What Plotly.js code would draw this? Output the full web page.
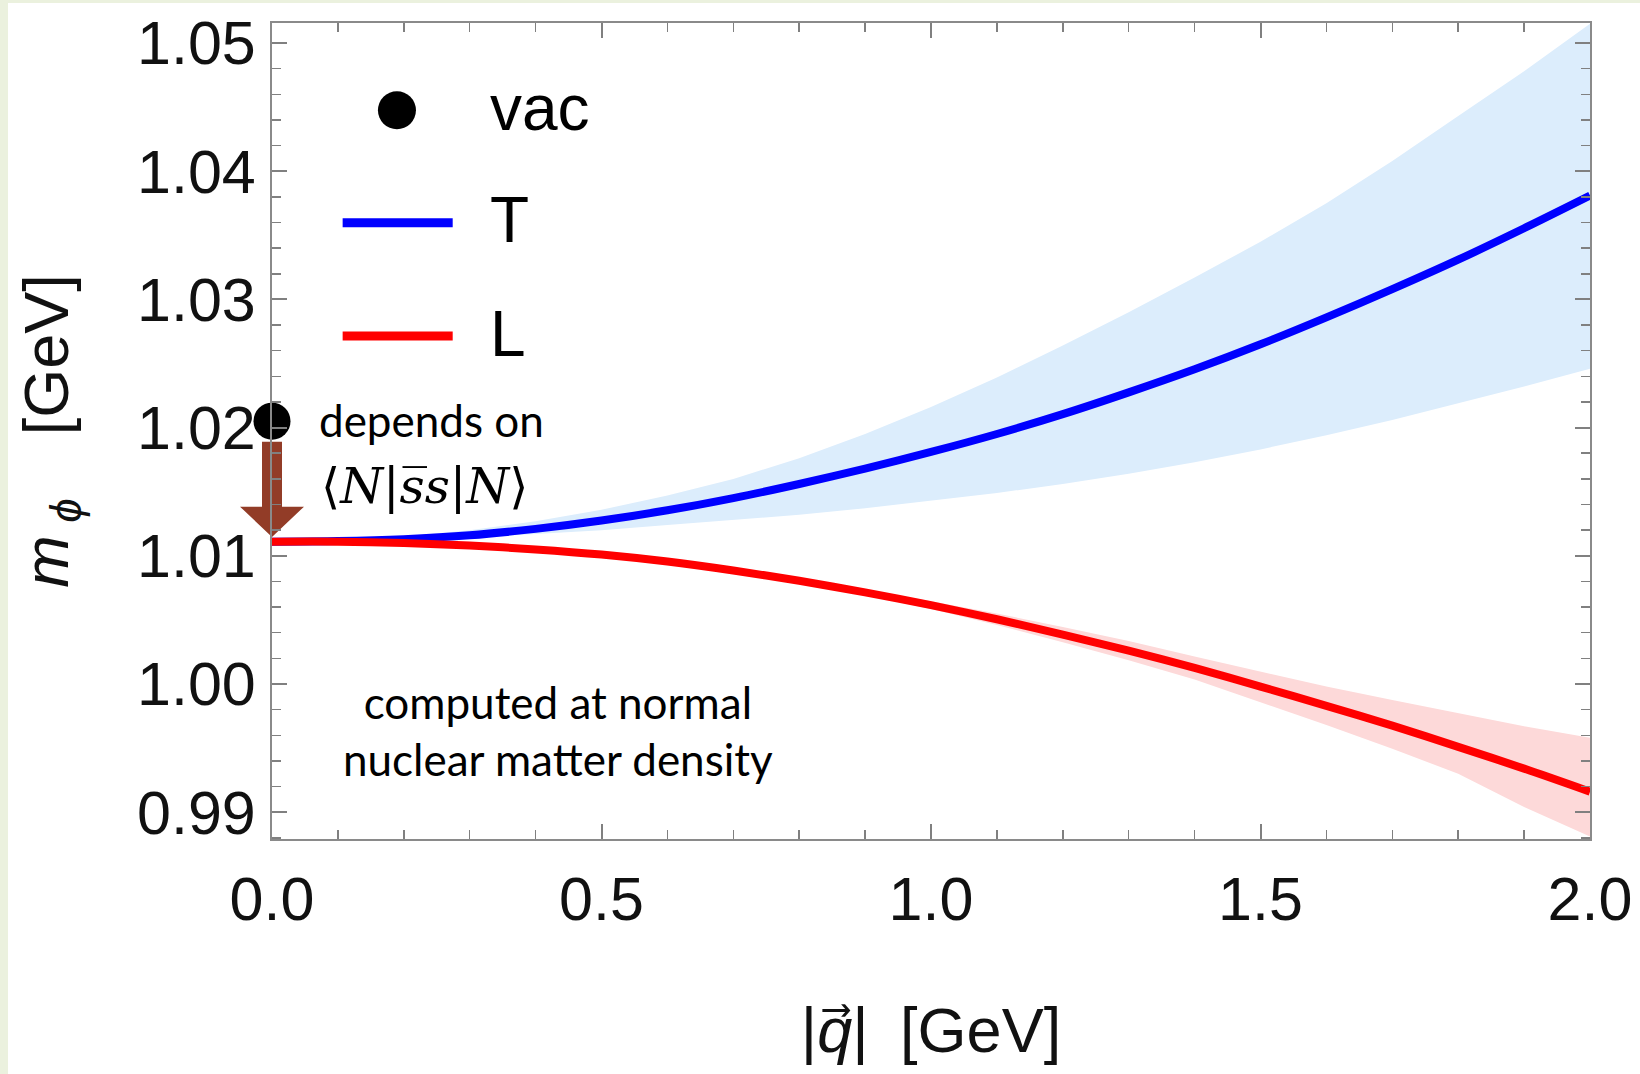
<!DOCTYPE html>
<html>
<head>
<meta charset="utf-8">
<script src="https://cdn.plot.ly/plotly-3.0.1.min.js"></script>
<style>
  html, body { margin: 0; padding: 0; background: #ebf1de; width: 1640px; height: 1074px; overflow: hidden; }
  #plot { position: absolute; left: 8px; top: 3px; width: 1632px; height: 1071px; background: #ffffff; }
</style>
</head>
<body>
<div id="plot"></div>
<script>
// momentum |q| [GeV]
const q = [0.0, 0.1, 0.2, 0.3, 0.4, 0.5, 0.6, 0.7, 0.8, 0.9, 1.0,
           1.1, 1.2, 1.3, 1.4, 1.5, 1.6, 1.7, 1.8, 1.9, 2.0];
// transverse mode (T): central value and band
const massT   = [1.01110, 1.01115, 1.01130, 1.01160, 1.01210, 1.01275, 1.01355, 1.01450, 1.01560, 1.01680, 1.01810,
                 1.01950, 1.02105, 1.02275, 1.02455, 1.02650, 1.02860, 1.03080, 1.03310, 1.03555, 1.03810];
const massTHi = [1.0111, 1.0112, 1.0115, 1.0120, 1.0127, 1.0136, 1.0147, 1.0160, 1.0176, 1.0195, 1.0216,
                 1.0239, 1.0264, 1.0290, 1.0317, 1.0345, 1.0375, 1.0408, 1.0443, 1.0478, 1.0515];
const massTLo = [1.0111, 1.0111, 1.0112, 1.0114, 1.0117, 1.0120, 1.0124, 1.0128, 1.0132, 1.0137, 1.0143,
                 1.0149, 1.0156, 1.0164, 1.0173, 1.0183, 1.0194, 1.0206, 1.0219, 1.0232, 1.0246];
// longitudinal mode (L): central value and band
const massL   = [1.01110, 1.01110, 1.01100, 1.01080, 1.01050, 1.01010, 1.00955, 1.00885, 1.00805, 1.00715, 1.00615,
                 1.00505, 1.00385, 1.00260, 1.00125, 0.99980, 0.99830, 0.99675, 0.99510, 0.99340, 0.99160];
const massLHi = [1.01110, 1.01112, 1.01103, 1.01084, 1.01055, 1.01017, 1.00963, 1.00895, 1.00815, 1.00735, 1.00645,
                 1.00550, 1.00445, 1.00335, 1.00215, 1.00100, 0.99980, 0.99875, 0.99770, 0.99670, 0.99580];
const massLLo = [1.01110, 1.01108, 1.01097, 1.01076, 1.01045, 1.01003, 1.00947, 1.00875, 1.00795, 1.00695, 1.00585,
                 1.00460, 1.00325, 1.00185, 1.00035, 0.99860, 0.99680, 0.99495, 0.99300, 0.99040, 0.98810];
// vacuum value
const vacQ = [0.0];
const vacMass = [1.0205];
// legend labels
const legendLabels = ["vac", "T", "L"];

const sansFamily = "'Liberation Sans', Arial, Helvetica, sans-serif";
const tickFont = { family: sansFamily, size: 61, color: "#111111" };
const titleFont = { family: sansFamily, size: 63, color: "#111111" };
const noteFont = { family: "Lato, Calibri, sans-serif", size: 44, color: "#000000" };

const traces = [
  { x: q, y: massTLo, type: "scatter", mode: "lines", line: { width: 0 },
    hoverinfo: "skip", showlegend: false },
  { x: q, y: massTHi, type: "scatter", mode: "lines", line: { width: 0 },
    fill: "tonexty", fillcolor: "#dcedfc", hoverinfo: "skip", showlegend: false },
  { x: q, y: massLLo, type: "scatter", mode: "lines", line: { width: 0 },
    hoverinfo: "skip", showlegend: false },
  { x: q, y: massLHi, type: "scatter", mode: "lines", line: { width: 0 },
    fill: "tonexty", fillcolor: "#fdd9d9", hoverinfo: "skip", showlegend: false },
  { x: q, y: massT, type: "scatter", mode: "lines", name: legendLabels[1],
    line: { color: "#0000ff", width: 8, shape: "spline", smoothing: 0.8 }, cliponaxis: false, showlegend: false },
  { x: q, y: massL, type: "scatter", mode: "lines", name: legendLabels[2],
    line: { color: "#ff0000", width: 8, shape: "spline", smoothing: 0.8 }, cliponaxis: false, showlegend: false },
  { x: vacQ, y: vacMass, type: "scatter", mode: "markers", name: legendLabels[0],
    marker: { color: "#000000", size: 37 }, cliponaxis: false, showlegend: false }
];

const axisCommon = {
  showgrid: false, zeroline: false, showline: true, mirror: "ticks",
  linecolor: "#8a8a8a", linewidth: 2,
  ticks: "inside", tickcolor: "#808080", tickwidth: 2, ticklen: 15,
  tickfont: tickFont
};

const layout = {
  width: 1632, height: 1071,
  margin: { l: 264, r: 50, t: 20, b: 235 },
  paper_bgcolor: "#ffffff", plot_bgcolor: "#ffffff",
  showlegend: false,
  xaxis: Object.assign({}, axisCommon, {
    range: [0, 2], dtick: 0.5, tick0: 0, tickformat: ".1f",
    ticklabelstandoff: 6,
    minor: { dtick: 0.1, ticks: "inside", ticklen: 9, tickcolor: "#808080", tickwidth: 1.5 },
    title: { text: "|<i>q</i>\u20D7|\u2002[GeV]", font: titleFont, standoff: 76 }
  }),
  yaxis: Object.assign({}, axisCommon, {
    range: [0.98791, 1.05156], dtick: 0.01, tick0: 1.0, tickformat: ".2f",
    ticklabelstandoff: 2,
    minor: { dtick: 0.002, ticks: "inside", ticklen: 9, tickcolor: "#808080", tickwidth: 1.5 },
    title: { text: "<i>m</i>\u2009<sub><i>\u03D5</i></sub>\u2003[GeV]", font: titleFont, standoff: 48 }
  }),
  shapes: [
    // brown arrow from the vacuum value down to the in-medium value
    { type: "path", xref: "paper", yref: "paper", xsizemode: "pixel", xanchor: 0,
      path: "M -10,0.4869 L 10,0.4869 L 10,0.4073 L 32,0.4073 L 0,0.3700 L -32,0.4073 L -10,0.4073 Z",
      fillcolor: "#923c27", line: { width: 0 }, layer: "below" },
    // legend keys
    { type: "circle", xref: "paper", yref: "paper", xsizemode: "pixel", ysizemode: "pixel",
      xanchor: 0.0948, yanchor: 0.8931, x0: -19, x1: 19, y0: -19, y1: 19,
      fillcolor: "#000000", line: { width: 0 } },
    { type: "line", xref: "paper", yref: "paper", x0: 0.0536, x1: 0.1371, y0: 0.7551, y1: 0.7551,
      line: { color: "#0000ff", width: 9 } },
    { type: "line", xref: "paper", yref: "paper", x0: 0.0536, x1: 0.1371, y0: 0.6163, y1: 0.6163,
      line: { color: "#ff0000", width: 9 } }
  ],
  annotations: [
    { xref: "paper", yref: "paper", x: 0.1639, y: 0.8960, xanchor: "left", yanchor: "middle",
      text: legendLabels[0], showarrow: false, font: { family: sansFamily, size: 64, color: "#000" } },
    { xref: "paper", yref: "paper", x: 0.1639, y: 0.7584, xanchor: "left", yanchor: "middle",
      text: legendLabels[1], showarrow: false, font: { family: sansFamily, size: 64, color: "#000" } },
    { xref: "paper", yref: "paper", x: 0.1639, y: 0.6188, xanchor: "left", yanchor: "middle",
      text: legendLabels[2], showarrow: false, font: { family: sansFamily, size: 64, color: "#000" } },
    { xref: "paper", yref: "paper", x: 0.0339, y: 0.5135, xanchor: "left", yanchor: "middle",
      text: "depends on", showarrow: false, font: noteFont },
    { xref: "paper", yref: "paper", x: 0.0355, y: 0.4314, xanchor: "left", yanchor: "middle",
      text: "\u27E8<i>N</i>|<i>s\u0305s</i>|<i>N</i>\u27E9", showarrow: false,
      font: { family: "'DejaVu Serif', serif", size: 49, color: "#000" } },
    { xref: "paper", yref: "paper", x: 0.2170, y: 0.1334, xanchor: "center", yanchor: "middle",
      align: "center", text: "computed at normal<br>nuclear matter density", showarrow: false, font: noteFont }
  ]
};

Plotly.newPlot("plot", traces, layout, { staticPlot: true, displayModeBar: false });
</script>
</body>
</html>
